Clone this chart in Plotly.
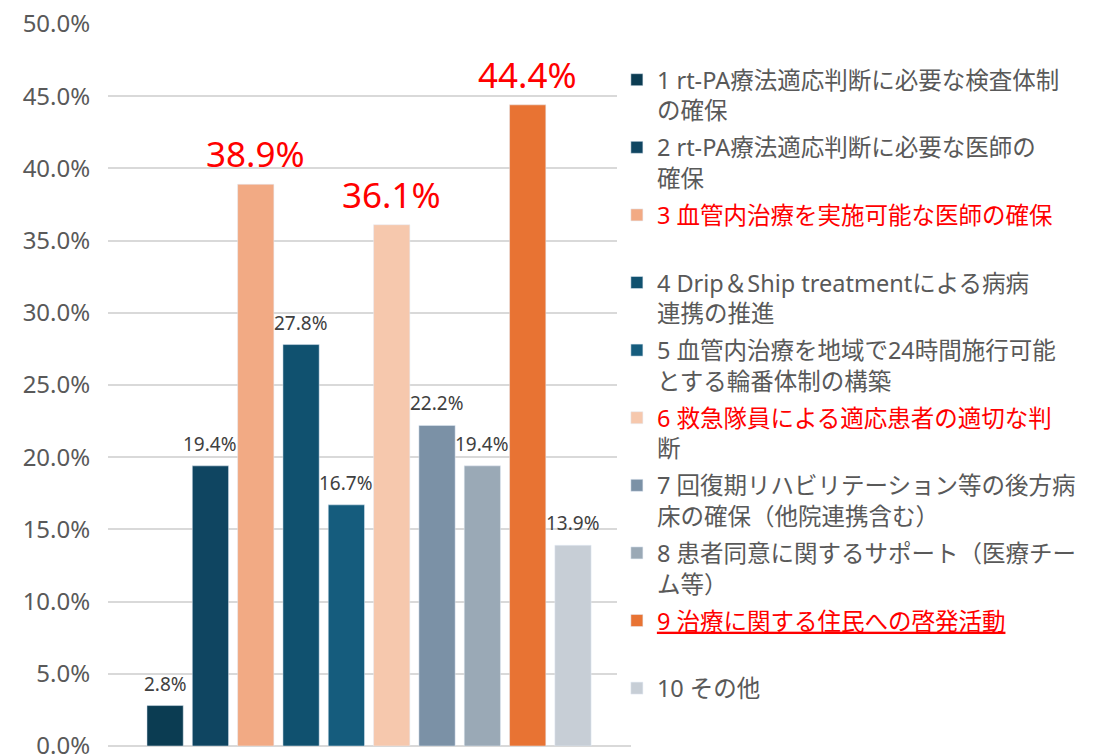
import plotly.graph_objects as go

# items (legend text), values (%) and bar colours
item_no = ["1", "2", "3", "4", "5", "6", "7", "8", "9", "10"]
item_names = [
    "1 rt-PA療法適応判断に必要な検査体制<br>の確保",
    "2 rt-PA療法適応判断に必要な医師の<br>確保",
    "3 血管内治療を実施可能な医師の確保<br> ",
    "4 Drip＆Ship treatmentによる病病<br>連携の推進",
    "5 血管内治療を地域で24時間施行可能<br>とする輪番体制の構築",
    "6 救急隊員による適応患者の適切な判<br>断",
    "7 回復期リハビリテーション等の後方病<br>床の確保（他院連携含む）",
    "8 患者同意に関するサポート（医療チー<br>ム等）",
    "9 治療に関する住民への啓発活動<br> ",
    "10 その他",
]
values = [2.8, 19.4, 38.9, 27.8, 16.7, 36.1, 22.2, 19.4, 44.4, 13.9]
colors = ["#0B3C52", "#0F4561", "#F2AA84", "#10516F", "#155C7D",
          "#F6C8AD", "#7B91A6", "#9AA9B6", "#E87333", "#C7CED6"]
highlight = [False, False, True, False, False, True, False, False, True, False]

FONT = "Noto Sans, Noto Sans CJK JP, sans-serif"

fig = go.Figure()

for i in range(len(values)):
    name = item_names[i]
    if highlight[i]:
        first, rest = name.split("<br>")
        if item_no[i] == "9":
            first = "<u>" + first + "</u>"
        name = '<span style="color:#FF0000">' + first + "</span><br>" + rest
    fig.add_trace(go.Bar(
        x=[item_no[i]], y=[values[i]], name=name, legendgroup=item_no[i],
        marker_color=colors[i], width=0.8,
    ))
    # value label above each bar (x given as category index)
    fig.add_annotation(
        x=i, y=values[i], text=f"{values[i]:.1f}%",
        showarrow=False, yanchor="bottom",
        yshift=5 if highlight[i] else 7,
        font=dict(family=FONT, size=35 if highlight[i] else 19,
                  color="#FF0000" if highlight[i] else "#404040"),
    )

fig.update_layout(
    width=1093, height=770,
    barmode="overlay",
    plot_bgcolor="white", paper_bgcolor="white",
    font=dict(family=FONT, color="#595959"),
    margin=dict(l=108, r=462, t=24, b=24, autoexpand=False),
    legend=dict(
        x=0.973, xanchor="left", y=0.953, yanchor="top",
        font=dict(family=FONT, size=23.5, color="#595959"),
        tracegroupgap=3.5, valign="top",
    ),
)

fig.update_xaxes(type="category", showticklabels=False, showgrid=False,
                 range=[-1.26, 10.28], showline=False, zeroline=False,
                 automargin=False)
fig.update_yaxes(range=[0, 50], dtick=5, ticksuffix="%", tickformat=".1f",
                 showgrid=True, gridcolor="#D9D9D9", gridwidth=2,
                 zeroline=True, zerolinecolor="#D9D9D9", zerolinewidth=2,
                 tickfont=dict(family=FONT, size=24, color="#595959"),
                 ticks="outside", ticklen=12, tickcolor="rgba(0,0,0,0)",
                 automargin=False)

fig.write_html("out.html", config={"displayModeBar": False},
               post_script="document.body.style.margin='0';")
